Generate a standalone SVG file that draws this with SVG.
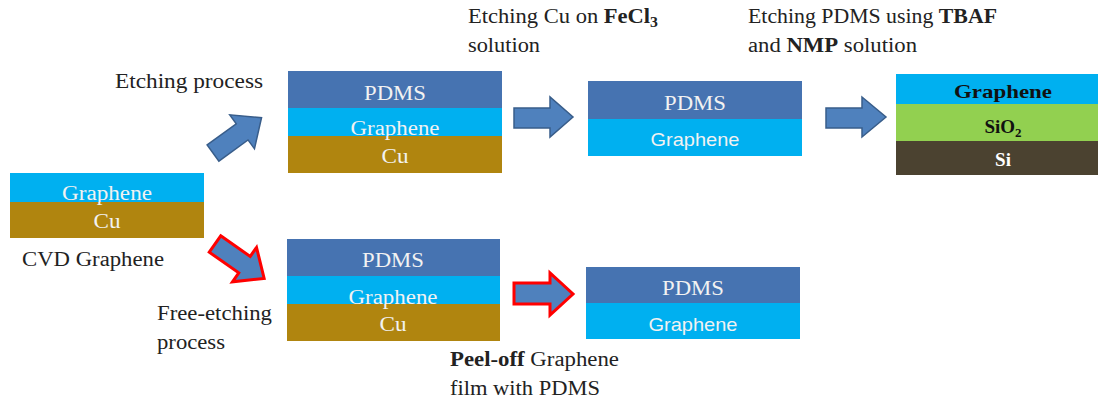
<svg xmlns="http://www.w3.org/2000/svg" width="1100" height="404" viewBox="0 0 1100 404">
<style>
.pdms{fill:#4673b1}
.gr{fill:#00b0f0}
.cu{fill:#b0850f}
.sio{fill:#92d050}
.si{fill:#4b4230}
.lbl{font-family:"Liberation Serif","Times New Roman",serif;font-size:20px;fill:#222}
.in{font-family:"Liberation Serif","Times New Roman",serif;font-size:20px;fill:#f2f2f2;text-anchor:middle}
.ins{font-family:"Liberation Sans",Arial,sans-serif;font-size:19px;fill:#f2f2f2;text-anchor:middle}
.inb{font-family:"Liberation Serif","Times New Roman",serif;font-size:19px;font-weight:bold;text-anchor:middle}
.b{font-weight:bold}
.ab{fill:#4f81bd;stroke:#385d8a;stroke-width:1.5}
.ar{fill:#4f81bd;stroke:#ff0000;stroke-width:3;stroke-linejoin:miter}
</style>
<rect width="1100" height="404" fill="#ffffff"/>

<g id="cvd">
<rect class="gr" x="10" y="173" width="194" height="29"/>
<rect class="cu" x="10" y="202" width="194" height="36"/>
<text class="in" x="107" y="200" textLength="90" lengthAdjust="spacingAndGlyphs">Graphene</text>
<text class="in" x="107" y="228" textLength="27" lengthAdjust="spacingAndGlyphs">Cu</text>
<text class="lbl" x="22" y="266" textLength="142" lengthAdjust="spacingAndGlyphs">CVD Graphene</text>
</g>

<g id="top1">
<rect class="pdms" x="288" y="71" width="214" height="37"/>
<rect class="gr" x="288" y="108" width="214" height="28"/>
<rect class="cu" x="288" y="136" width="214" height="37"/>
<text class="in" x="395" y="100" textLength="62" lengthAdjust="spacingAndGlyphs">PDMS</text>
<text class="in" x="395" y="135" textLength="89" lengthAdjust="spacingAndGlyphs">Graphene</text>
<text class="in" x="395" y="163" textLength="27" lengthAdjust="spacingAndGlyphs">Cu</text>
</g>

<g id="top2">
<rect class="pdms" x="588" y="81" width="214" height="38"/>
<rect class="gr" x="588" y="119" width="214" height="37"/>
<text class="in" x="695" y="110" textLength="62" lengthAdjust="spacingAndGlyphs">PDMS</text>
<text class="ins" x="695" y="146" textLength="89" lengthAdjust="spacingAndGlyphs">Graphene</text>
</g>

<g id="substrate">
<rect class="gr" x="896" y="74" width="202" height="30"/>
<rect class="sio" x="896" y="104" width="202" height="37"/>
<rect class="si" x="896" y="141" width="202" height="34"/>
<text class="inb" x="1003" y="98" fill="#111" textLength="98" lengthAdjust="spacingAndGlyphs">Graphene</text>
<text class="inb" x="1003" y="133" fill="#111">SiO<tspan font-size="13" dy="4">2</tspan></text>
<text class="inb" x="1003" y="166" fill="#ffffff">Si</text>
</g>

<g id="bot1">
<rect class="pdms" x="287" y="239" width="213" height="37"/>
<rect class="gr" x="287" y="276" width="213" height="28"/>
<rect class="cu" x="287" y="304" width="213" height="37"/>
<text class="in" x="393" y="267" textLength="62" lengthAdjust="spacingAndGlyphs">PDMS</text>
<text class="in" x="393" y="304" textLength="89" lengthAdjust="spacingAndGlyphs">Graphene</text>
<text class="in" x="393" y="331" textLength="27" lengthAdjust="spacingAndGlyphs">Cu</text>
</g>

<g id="bot2">
<rect class="pdms" x="586" y="267" width="214" height="36"/>
<rect class="gr" x="586" y="303" width="214" height="36"/>
<text class="in" x="693" y="295" textLength="62" lengthAdjust="spacingAndGlyphs">PDMS</text>
<text class="ins" x="693" y="331" textLength="89" lengthAdjust="spacingAndGlyphs">Graphene</text>
</g>

<g id="labels">
<text class="lbl" x="115" y="88" textLength="148" lengthAdjust="spacingAndGlyphs">Etching process</text>
<text class="lbl" x="468" y="23" textLength="190" lengthAdjust="spacingAndGlyphs">Etching Cu on <tspan class="b">FeCl</tspan><tspan class="b" font-size="14" dy="4">3</tspan></text>
<text class="lbl" x="468" y="52" textLength="72" lengthAdjust="spacingAndGlyphs">solution</text>
<text class="lbl" x="748" y="23" textLength="249" lengthAdjust="spacingAndGlyphs">Etching PDMS using <tspan class="b">TBAF</tspan></text>
<text class="lbl" x="748" y="52" textLength="169" lengthAdjust="spacingAndGlyphs">and <tspan class="b">NMP</tspan> solution</text>
<text class="lbl" x="157" y="320" textLength="115" lengthAdjust="spacingAndGlyphs">Free-etching</text>
<text class="lbl" x="157" y="349" textLength="68" lengthAdjust="spacingAndGlyphs">process</text>
<text class="lbl" x="450" y="366" textLength="169" lengthAdjust="spacingAndGlyphs"><tspan class="b">Peel-off</tspan> Graphene</text>
<text class="lbl" x="450" y="395" textLength="150" lengthAdjust="spacingAndGlyphs">film with PDMS</text>
</g>

<g id="connectors">
<polygon class="ab" points="0,-10 36,-10 36,-21 60,0 36,21 36,10 0,10" transform="translate(213,153) rotate(-36)"/>
<polygon class="ab" points="514,108 550,108 550,97 573,117 550,137 550,128 514,128"/>
<polygon class="ab" points="826,108 862,108 862,97 886,117 862,137 862,128 826,128"/>
<polygon class="ar" points="0,-10 36,-10 36,-21 60,0 36,21 36,10 0,10" transform="translate(215,244) rotate(35)"/>
<polygon class="ar" points="514,283 550,283 550,273 573,294 550,315 550,304 514,304"/>
</g>
</svg>
